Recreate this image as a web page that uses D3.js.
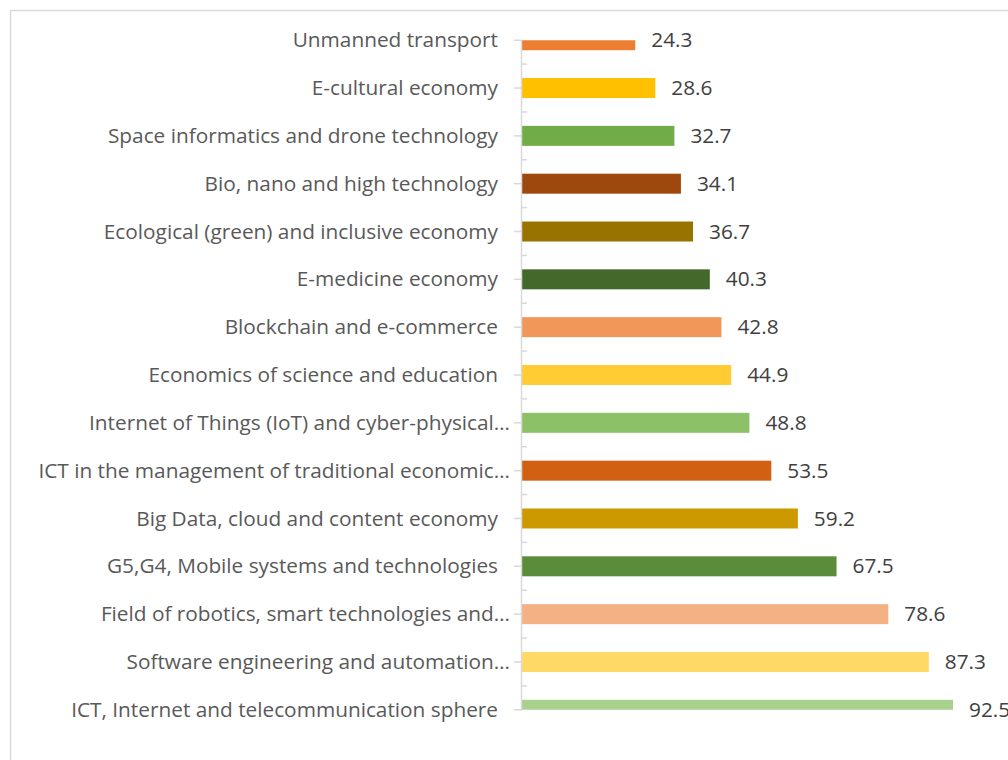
<!DOCTYPE html>
<meta charset="utf-8">
<script src="https://d3js.org/d3.v7.min.js"></script>
<style>
  body { margin: 0; background: #fff; }
  text { font-family: "Open Sans", sans-serif; }
</style>
<svg id="chart" width="1008" height="760"></svg>
<script>
    // categories, top to bottom
    const categories = [
        "Unmanned transport",
        "E-cultural economy",
        "Space informatics and drone technology",
        "Bio, nano and high technology",
        "Ecological (green) and inclusive economy",
        "E-medicine economy",
        "Blockchain and e-commerce",
        "Economics of science and education",
        "Internet of Things (IoT) and cyber-physical…",
        "ICT in the management of traditional economic…",
        "Big Data, cloud and content economy",
        "G5,G4, Mobile systems and technologies",
        "Field of robotics, smart technologies and…",
        "Software engineering and automation…",
        "ICT, Internet and telecommunication sphere"
    ];
    const values = [24.3, 28.6, 32.7, 34.1, 36.7, 40.3, 42.8, 44.9, 48.8, 53.5, 59.2, 67.5, 78.6, 87.3, 92.5];
    const colors = ["#ED7D31", "#FFC000", "#70AD47", "#9E480E", "#997300", "#43682B",
        "#F1975A", "#FFCD33", "#8CC168", "#D26012", "#CC9A00", "#5B8C3A",
        "#F4B183", "#FFD966", "#A9D18E"];

    const svg = d3.select("#chart");

    // chart border (runs off the right and bottom edge)
    svg.append("rect")
        .attr("x", 10.5).attr("y", 10.5)
        .attr("width", 1010).attr("height", 760)
        .attr("fill", "none")
        .attr("stroke", "#d9d9d9")
        .attr("stroke-width", 1.5);

    const plotTop = 40.2, plotBottom = 709.8;

    const x = d3.scaleLinear().domain([0, 100]).range([522, 988]);
    const y = d3.scalePoint().domain(categories).range([plotTop, plotBottom]);
    const step = y.step();
    const barH = 20;

    svg.append("clipPath").attr("id", "plot")
        .append("rect")
        .attr("x", x(0)).attr("y", plotTop)
        .attr("width", 486).attr("height", plotBottom - plotTop);

    const data = categories.map((c, i) => ({ c: c, v: values[i], col: colors[i] }));

    svg.append("g")
        .attr("clip-path", "url(#plot)")
        .selectAll("rect")
        .data(data)
        .join("rect")
        .attr("x", x(0))
        .attr("y", d => y(d.c) - barH / 2)
        .attr("width", d => x(d.v) - x(0))
        .attr("height", barH)
        .attr("fill", d => d.col);

    // category axis
    const ax = svg.append("g").attr("stroke", "#d9d9d9").attr("stroke-width", 1.5);
    ax.append("line")
        .attr("x1", 521.5).attr("x2", 521.5)
        .attr("y1", plotTop).attr("y2", plotBottom + 1);
    ax.selectAll(".tl")
        .data(categories)
        .join("line")
        .attr("x1", 514).attr("x2", 521.5)
        .attr("y1", d => y(d)).attr("y2", d => y(d));
    ax.selectAll(".tr")
        .data(categories.slice(1))
        .join("line")
        .attr("x1", 521.5).attr("x2", 527)
        .attr("y1", d => y(d) - step / 2).attr("y2", d => y(d) - step / 2);

    // category labels
    svg.append("g")
        .selectAll("text")
        .data(categories)
        .join("text")
        .attr("x", d => d.endsWith("…") ? 510 : 498)
        .attr("y", d => y(d))
        .attr("dy", "0.34em")
        .attr("text-anchor", "end")
        .attr("font-size", "20.8px")
        .attr("fill", "#595959")
        .text(d => d);

    // value labels
    svg.append("g")
        .selectAll("text")
        .data(data)
        .join("text")
        .attr("x", d => x(d.v) + 16)
        .attr("y", d => y(d.c))
        .attr("dy", "0.34em")
        .attr("font-size", "20.8px")
        .attr("fill", "#404040")
        .text(d => d.v.toFixed(1));
</script>
